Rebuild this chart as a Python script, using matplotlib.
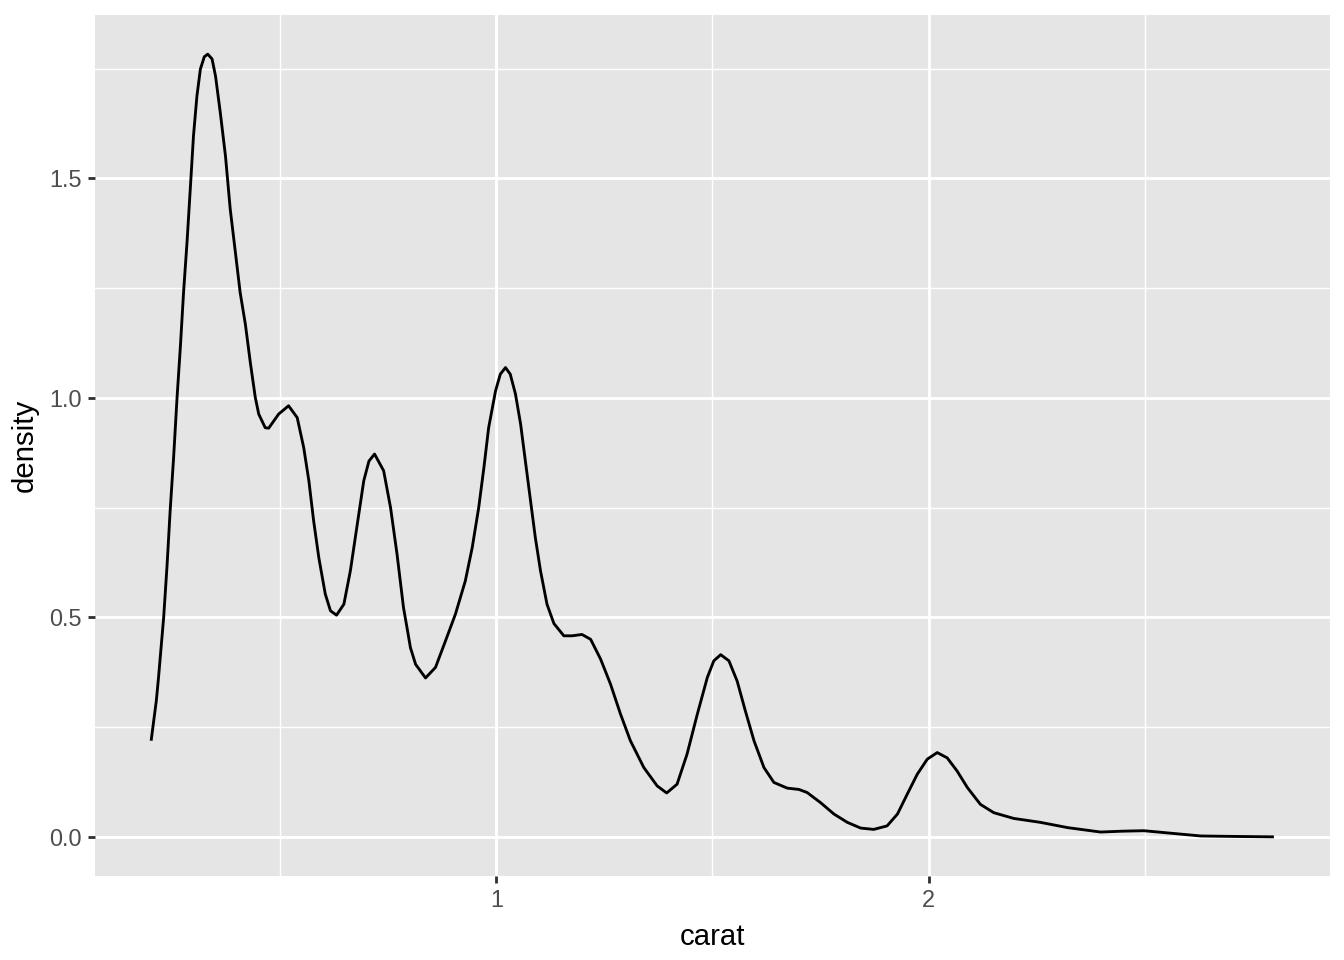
import matplotlib
matplotlib.use("Agg")
import matplotlib.pyplot as plt
from matplotlib.ticker import FixedLocator

# Density curve values (carat, density)
carat = [0.201, 0.213, 0.218, 0.222, 0.230, 0.238, 0.245, 0.253, 0.261, 0.269,
         0.276, 0.284, 0.292, 0.299, 0.307, 0.315, 0.324, 0.332, 0.342, 0.350,
         0.361, 0.373, 0.384, 0.396, 0.407, 0.419, 0.431, 0.442, 0.450, 0.465,
         0.473, 0.496, 0.519, 0.539, 0.554, 0.566, 0.577, 0.589, 0.604, 0.616,
         0.630, 0.647, 0.662, 0.678, 0.693, 0.705, 0.718, 0.739, 0.755, 0.770,
         0.785, 0.793, 0.801, 0.813, 0.836, 0.859, 0.882, 0.905, 0.928, 0.944,
         0.959, 0.971, 0.982, 0.998, 1.009, 1.021, 1.032, 1.044, 1.056, 1.067,
         1.079, 1.090, 1.102, 1.117, 1.133, 1.156, 1.175, 1.198, 1.218, 1.241,
         1.264, 1.287, 1.310, 1.341, 1.372, 1.394, 1.418, 1.441, 1.465, 1.488,
         1.503, 1.519, 1.538, 1.557, 1.576, 1.596, 1.619, 1.642, 1.673, 1.700,
         1.719, 1.750, 1.781, 1.812, 1.843, 1.873, 1.904, 1.928, 1.951, 1.974,
         1.997, 2.020, 2.043, 2.066, 2.090, 2.120, 2.151, 2.197, 2.259, 2.322,
         2.398, 2.450, 2.498, 2.553, 2.630, 2.706, 2.799]
density = [0.219, 0.310, 0.362, 0.408, 0.500, 0.621, 0.743, 0.864, 1.001, 1.122,
           1.240, 1.354, 1.483, 1.597, 1.688, 1.749, 1.777, 1.783, 1.772, 1.733,
           1.650, 1.551, 1.430, 1.331, 1.240, 1.168, 1.077, 1.001, 0.963, 0.932,
           0.931, 0.963, 0.982, 0.955, 0.887, 0.811, 0.720, 0.636, 0.553, 0.515,
           0.505, 0.530, 0.606, 0.712, 0.811, 0.856, 0.872, 0.834, 0.750, 0.644,
           0.522, 0.477, 0.431, 0.393, 0.362, 0.386, 0.446, 0.507, 0.583, 0.659,
           0.750, 0.841, 0.932, 1.016, 1.054, 1.069, 1.054, 1.009, 0.940, 0.856,
           0.765, 0.682, 0.606, 0.530, 0.486, 0.458, 0.458, 0.461, 0.450, 0.405,
           0.348, 0.280, 0.219, 0.158, 0.116, 0.100, 0.120, 0.188, 0.280, 0.363,
           0.401, 0.415, 0.401, 0.355, 0.287, 0.219, 0.158, 0.124, 0.111, 0.108,
           0.101, 0.078, 0.052, 0.033, 0.020, 0.017, 0.025, 0.052, 0.098, 0.143,
           0.177, 0.192, 0.180, 0.150, 0.112, 0.074, 0.055, 0.042, 0.033, 0.021,
           0.011, 0.013, 0.014, 0.009, 0.002, 0.001, 0.000]

x_major = [1, 2]
x_minor = [0.5, 1.5, 2.5]
y_major = [0.0, 0.5, 1.0, 1.5]
y_minor = [0.25, 0.75, 1.25, 1.75]
y_labels = ["0.0", "0.5", "1.0", "1.5"]
x_labels = ["1", "2"]

plt.rcParams['font.family'] = ['Liberation Sans', 'DejaVu Sans']

fig = plt.figure(figsize=(7, 5), dpi=192)
W, H = 1344, 960
ax = fig.add_axes([95 / W, (H - 876) / H, (1330 - 95) / W, (876 - 15) / H])
ax.set_facecolor('#E5E5E5')
for s in ax.spines.values():
    s.set_visible(False)

xmin, xmax = min(carat), max(carat)
xr = xmax - xmin
ax.set_xlim(xmin - 0.05 * xr, xmax + 0.05 * xr)
ymax = max(density)
ax.set_ylim(-0.05 * ymax, ymax * 1.05)

ax.xaxis.set_major_locator(FixedLocator(x_major))
ax.xaxis.set_minor_locator(FixedLocator(x_minor))
ax.yaxis.set_major_locator(FixedLocator(y_major))
ax.yaxis.set_minor_locator(FixedLocator(y_minor))
ax.set_xticklabels(x_labels)
ax.set_yticklabels(y_labels)

ax.grid(which='major', color='white', linewidth=1.07)
ax.grid(which='minor', color='white', linewidth=0.53)
ax.set_axisbelow(True)

ax.tick_params(which='major', length=2.75, width=1.07, color='#333333',
               labelcolor='#4D4D4D', labelsize=8.8, pad=2.2)
ax.tick_params(which='minor', length=0)

ax.plot(carat, density, color='black', linewidth=1.07, solid_capstyle='butt',
        solid_joinstyle='round', antialiased=True)

ax.set_xlabel('carat', fontsize=11, color='black', labelpad=4)
ax.set_ylabel('density', fontsize=11, color='black', labelpad=4)

fig.savefig('out.png', dpi=192, facecolor='white')
